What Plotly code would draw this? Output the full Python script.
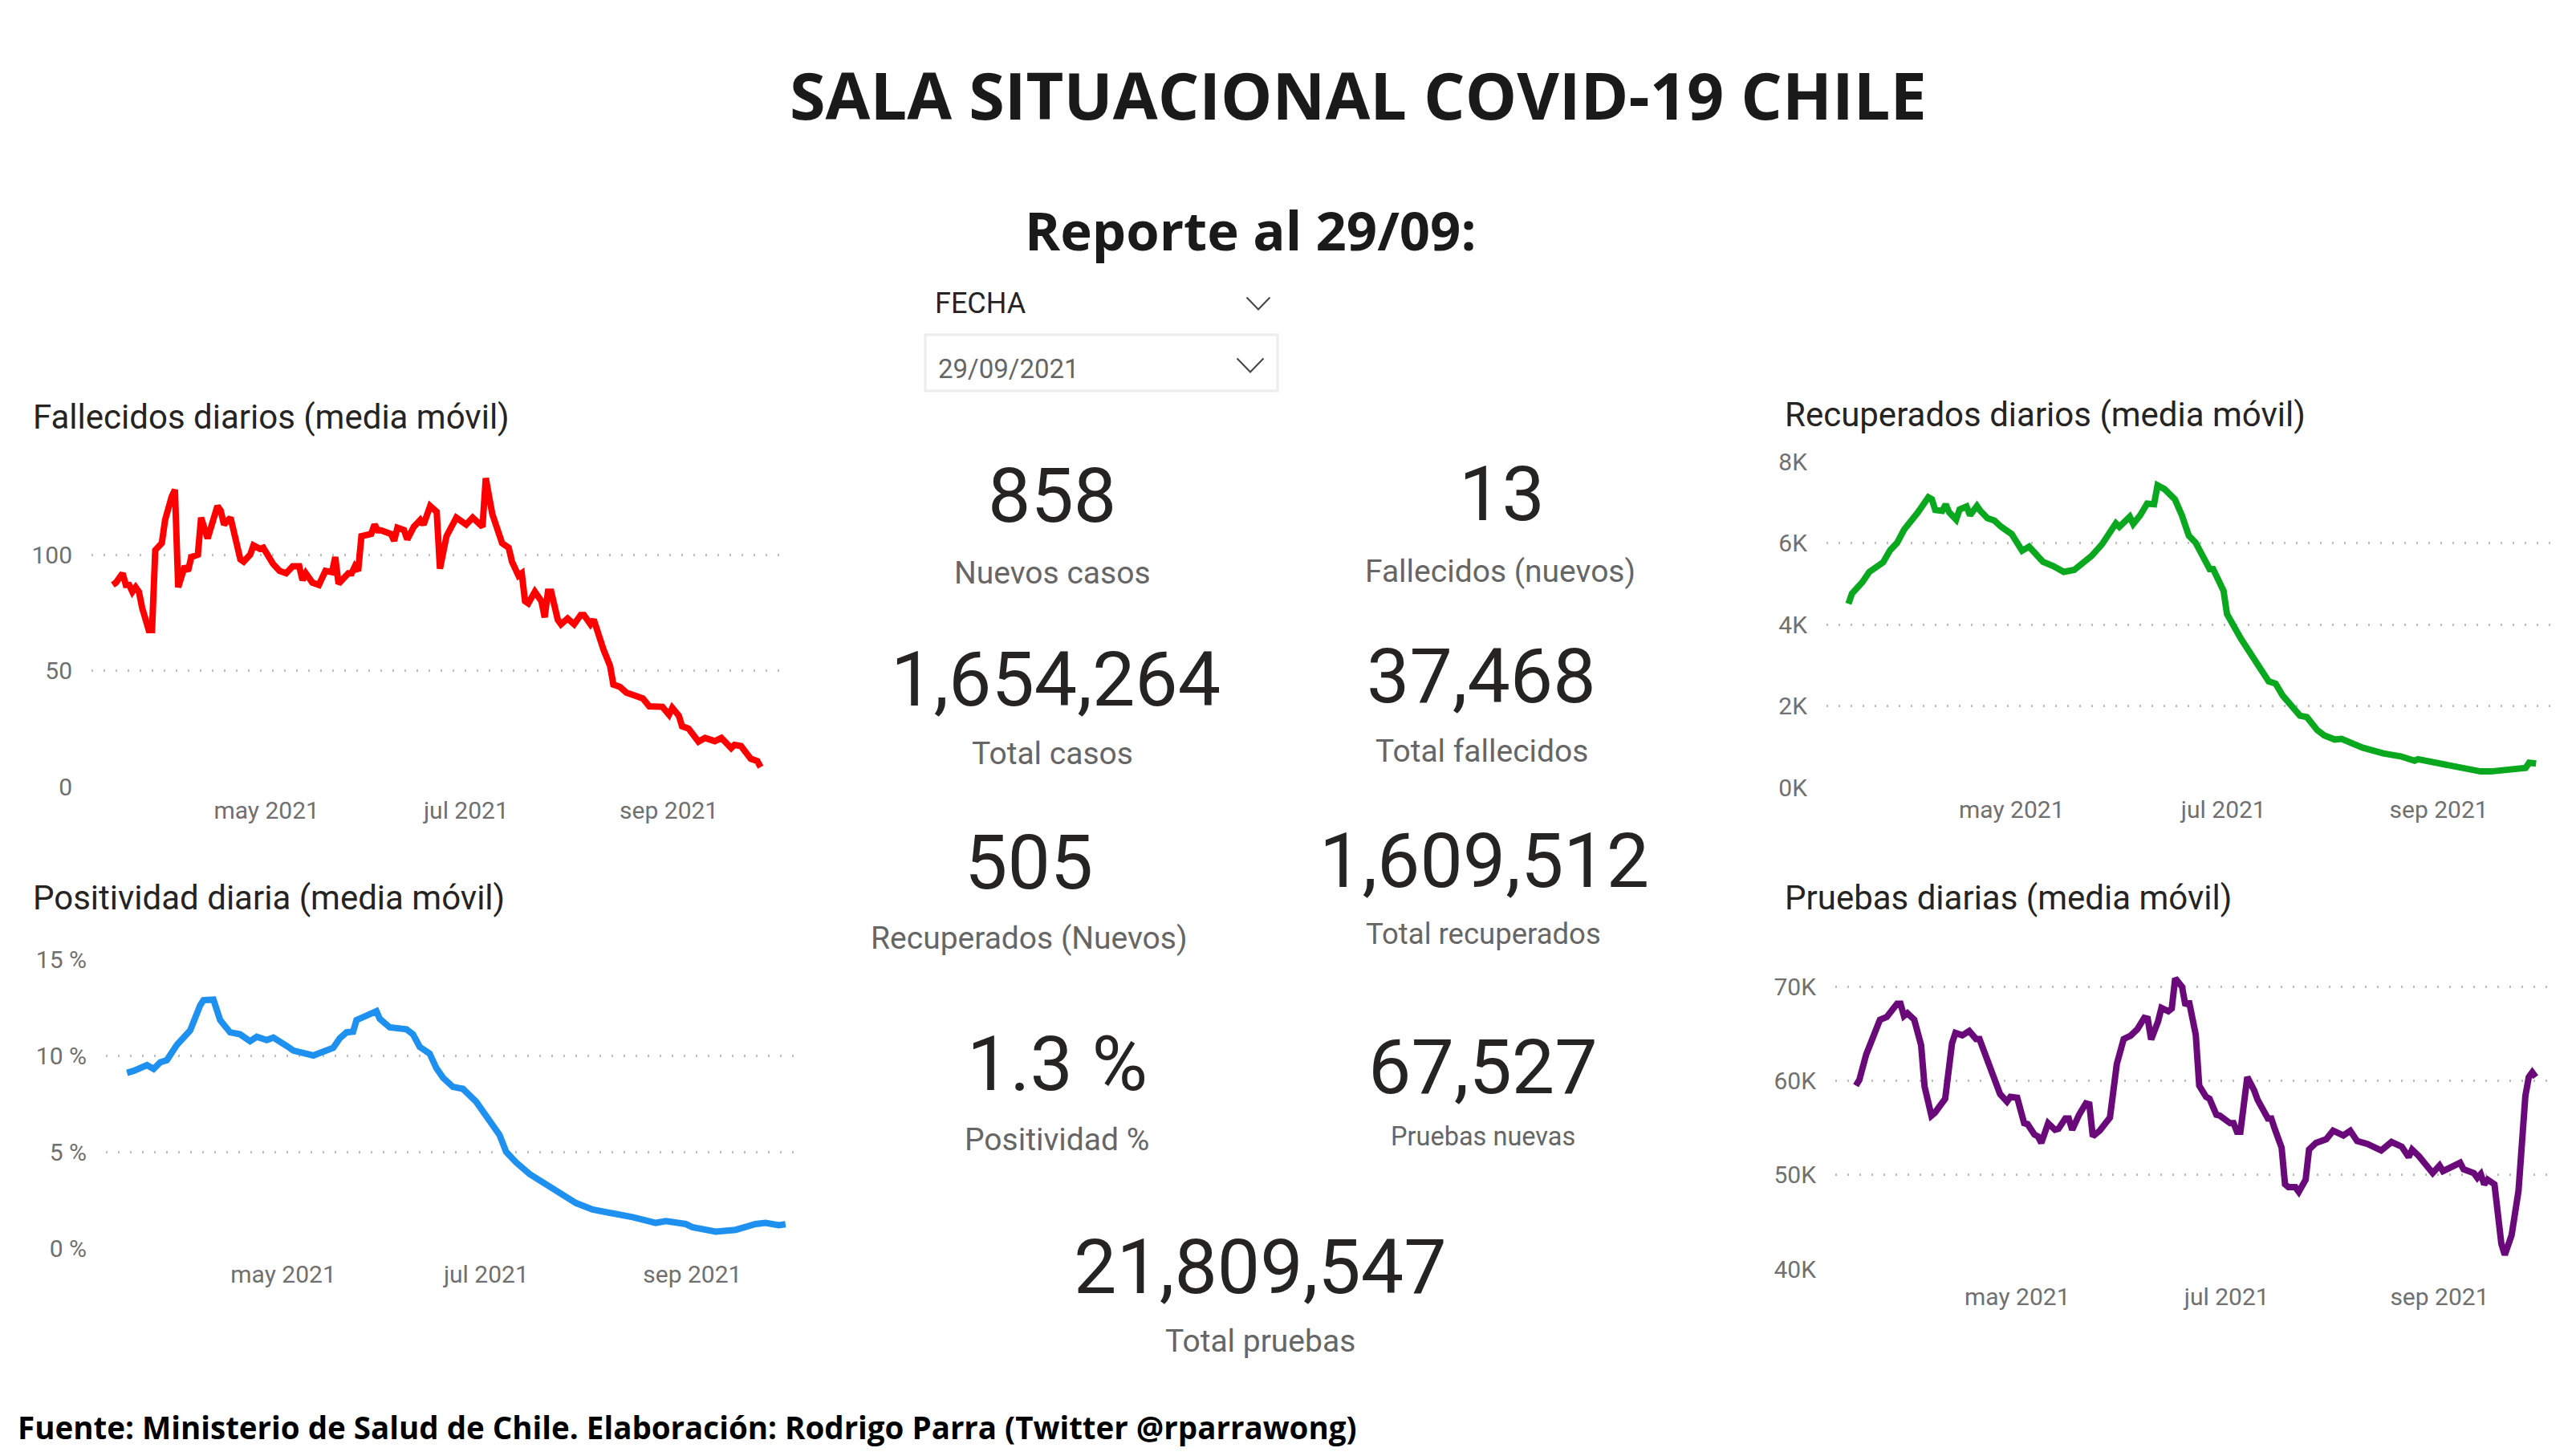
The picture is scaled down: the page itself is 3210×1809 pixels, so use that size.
import pandas as pd
import plotly.graph_objects as go

W, H = 3210, 1809
BASE = pd.Timestamp("2021-03-15")

dias_fallecidos = [0,1,3,4,5,6,7,8,9,11,12,13,15,16,18,19,20,22,23,24,26,27,29,31,32,33,34,36,38,39,40,42,43,45,46,48,49,51,53,55,57,58,59,61,63,65,67,68,69,72,73,74,75,76,79,80,81,82,84,85,86,87,89,90,92,94,95,96,97,99,100,102,105,108,110,113,114,116,118,119,121,122,124,125,126,127,129,131,132,133,134,135,136,137,139,141,143,144,146,147,148,150,152,153,155,157,160,162,164,168,170,171,173,174,176,179,181,184,186,189,190,192,195,197,198]
fallecidos = [87,88,92,87,87,84,86,84,77,67.5,67.5,102,105,115,125,128,86,95,93,99,100,116,107,117,121,119,113,116,104,98,97,100,104,102.5,103,98,96,93,92,95,95,89,92,88,87,93,92.5,99,87.5,92,92,95,93,108,109,113,110.5,110.5,109,109,106,111.6,110.6,106.6,112,115,113,117,121,118.5,94,108,116,113,116,112,133,117.5,109,105,103,97,91,92,80,79,84,80,73,84,84,79,72,70,72.5,70,74,74,70,72,67,59,52,44,43,40.5,39,38,34.6,34.4,31,34,30.6,26,25,19.4,21,19.6,21,16.6,18,17.5,12,11,8.4]

dias_positividad = [0,2,6,8,10,12,15,19,22,23,26,28,31,34,37,39,42,44,48,50,56,62,64,66,68,69,72,75,76,79,84,86,88,91,93,95,98,101,105,109,112,114,117,121,125,130,135,140,146,152,159,162,168,170,177,183,189,192,196,198]
positividad = [9.1,9.2,9.5,9.3,9.65,9.76,10.55,11.3,12.6,12.87,12.9,11.84,11.2,11.1,10.74,10.97,10.8,10.93,10.5,10.26,10,10.4,10.9,11.2,11.24,11.84,12.07,12.3,11.9,11.46,11.36,11.1,10.45,10.1,9.35,8.85,8.37,8.27,7.6,6.56,5.88,5,4.45,3.85,3.4,2.87,2.34,2,1.81,1.61,1.31,1.4,1.25,1.09,0.86,0.95,1.25,1.31,1.19,1.24]

dias_recuperados = [0,1,4,6,10,12,14,16,20,23,24,25,27,28,29,31,32,34,35,37,38,40,42,44,47,50,52,56,59,62,65,70,73,77,78,81,82,84,86,88,89,91,94,96,98,100,104,105,108,109,113,116,118,121,123,125,130,132,135,137,140,142,148,154,159,163,164,171,179,182,185,188,194,195,196,198]
recuperados = [4507,4756,5040,5290,5526,5825,6004,6324,6752,7123,7073,6810,6788,6950,6752,6574,6823,6895,6681,6909,6788,6610,6552,6396,6218,5811,5911,5540,5433,5290,5340,5683,5968,6481,6396,6645,6467,6681,6966,6952,7415,7323,7073,6681,6182,6004,5362,5362,4827,4257,3651,3259,2937,2603,2546,2260,1761,1725,1405,1276,1176,1191,977,834,763,656,692,585,442,392,392,406,442,478,606,585]

dias_pruebas = [0,1,3,7,9,12,13,14,15,17,19,20,22,23,26,28,29,31,33,35,36,40,41,42,44,45,47,49,50,52,53,54,56,58,59,61,62,63,65,67,68,69,71,74,76,78,80,81,82,84,85,86,88,89,91,92,93,95,96,97,98,99,100,102,103,105,106,109,110,111,112,114,116,117,120,121,122,124,125,126,128,129,131,132,134,137,139,142,144,146,149,151,153,156,159,161,162,164,168,170,171,176,177,180,181,182,183,184,186,188,189,191,193,195,196,197,198]
pruebas = [59.5,60.1,62.8,66.5,66.8,68.2,68.2,66.9,67.2,66.5,63.8,59.4,56.3,56.6,58.1,64,65.1,64.85,65.3,64.45,64.45,60.6,59.8,58.6,57.8,58.3,58.2,55.5,55.4,54.3,54.1,53.4,55.5,54.8,54.9,56,56,54.8,56.4,57.6,57.5,54.1,54.7,56.1,61.8,64.45,64.8,65.2,65.5,66.7,66.6,64.4,66.3,67.75,67.4,67.7,70.9,70,68,68.5,67,64.9,59.5,58.3,58.1,56.4,56.3,55.5,55.5,54.6,54.6,60.4,59,58,56,56,54.9,52.9,49,48.7,48.7,48.2,49.5,52.7,53.4,53.8,54.7,54.2,54.7,53.6,53.3,52.9,52.6,53.5,53,51.9,52.7,52,50.2,51,50.4,51.3,50.6,50.2,49.7,50.1,49,49.5,49,42.7,41.5,43.6,48.3,58.4,60.4,60.9,60.4]
pruebas = [v * 1000 for v in pruebas]

meses_vals = ["2021-05-01", "2021-07-01", "2021-09-01"]
meses_text = ["may 2021", "jul 2021", "sep 2021"]

TICK_FONT = "Roboto, sans-serif"
TEXT_FONT = "Roboto, sans-serif"
HEAD_FONT = "Open Sans, Noto Sans, sans-serif"
GRAY = "#707070"
DARK = "#252423"

def fx(p): return p / W
def fy(p): return 1 - p / H
def dates(d): return [BASE + pd.Timedelta(days=i) for i in d]

fig = go.Figure()
panels = [
 dict(n="", xd=(114,974), yd=(590,980), xr=("2021-03-08 12:00","2021-10-05 10:00"), yr=(0,135), xl=3,
      x=dias_fallecidos, y=fallecidos, c="#ff0000", tv=[0,50,100], tt=["0","50","100"], title="Fallecidos diarios (media móvil)", tx=39, ty=519),
 dict(n="2", xd=(132,993), yd=(1195,1555), xr=("2021-03-08 16:00","2021-10-02 10:00"), yr=(0,15), xl=6,
      x=dias_positividad, y=positividad, c="#1e90f0", tv=[0,5,10,15], tt=["0 %","5 %","10 %","15 %"], title="Positividad diaria (media móvil)", tx=39, ty=1118),
 dict(n="3", xd=(2276,3179), yd=(575,981), xr=("2021-03-08 16:00","2021-10-03 08:00"), yr=(0,8000), xl=1,
      x=dias_recuperados, y=recuperados, c="#0aa81e", tv=[0,2000,4000,6000,8000], tt=["0K","2K","4K","6K","8K"], title="Recuperados diarios (media móvil)", tx=2222, ty=516),
 dict(n="4", xd=(2287,3174), yd=(1206,1581), xr=("2021-03-09 00:00","2021-10-02 08:00"), yr=(40000,72000), xl=8,
      x=dias_pruebas, y=pruebas, c="#6a0a7a", tv=[40000,50000,60000,70000], tt=["40K","50K","60K","70K"], title="Pruebas diarias (media móvil)", tx=2222, ty=1118),
]
layout = {}
anns = []
def text(px, py, s, size, color=DARK, family=TEXT_FONT, anchor="center"):
    anns.append(dict(x=fx(px), y=fy(py), xref="paper", yref="paper", text=s, showarrow=False,
                     xanchor=anchor, yanchor="middle", font=dict(size=size, color=color, family=family)))

for p in panels:
    fig.add_trace(go.Scatter(x=dates(p["x"]), y=p["y"], mode="lines", xaxis="x"+p["n"], yaxis="y"+p["n"],
                             line=dict(color=p["c"], width=8), showlegend=False, hoverinfo="skip", cliponaxis=False))
    layout["xaxis"+p["n"]] = dict(domain=[fx(p["xd"][0]), fx(p["xd"][1])], range=list(p["xr"]), type="date",
        anchor="y"+p["n"], tickvals=meses_vals, ticktext=meses_text, showgrid=False, zeroline=False, showline=False, automargin=False,
        ticks="outside", ticklen=p["xl"], tickcolor="rgba(0,0,0,0)", tickfont=dict(size=30, color=GRAY, family=TICK_FONT))
    layout["yaxis"+p["n"]] = dict(domain=[fy(p["yd"][1]), fy(p["yd"][0])], range=list(p["yr"]), automargin=False,
        anchor="x"+p["n"], tickvals=p["tv"], ticktext=p["tt"], showgrid=True, gridcolor="#bdbdbd", gridwidth=2.5,
        griddash="2px,13px", zeroline=False, showline=False, ticks="outside", ticklen=17, tickcolor="rgba(0,0,0,0)",
        tickfont=dict(size=30, color=GRAY, family=TICK_FONT))
    text(p["tx"], p["ty"], p["title"], 42, anchor="left")

kpis = [
 (1311,617,"858",1311,714,"Nuevos casos",39),
 (1871,615,"13",1869,712,"Fallecidos (nuevos)",39),
 (1315,846,"1,654,264",1311,939,"Total casos",39),
 (1846,842,"37,468",1846,936,"Total fallecidos",39),
 (1282,1074,"505",1282,1169,"Recuperados (Nuevos)",39),
 (1850,1072,"1,609,512",1848,1163,"Total recuperados",36.5),
 (1317,1325,"1.3 %",1317,1420,"Positividad %",39),
 (1848,1329,"67,527",1848,1416,"Pruebas nuevas",32.5),
 (1570,1578,"21,809,547",1570,1671,"Total pruebas",39),
]
for vx, vy, v, lx, ly, l, ls in kpis:
    text(vx, vy, v, 95)
    text(lx, ly, l, ls, color="#666666")

text(1692, 117, "<b>SALA SITUACIONAL COVID-19 CHILE</b>", 81, color="#1a1a1a", family=HEAD_FONT)
text(1558, 286, "<b>Reporte al 29/09:</b>", 67, color="#1a1a1a", family=HEAD_FONT)
text(20, 1778, "<b>Fuente: Ministerio de Salud de Chile. Elaboración: Rodrigo Parra (Twitter @rparrawong)</b>", 38.5, color="#000000", family=HEAD_FONT, anchor="left")
text(1163, 378, "FECHA", 36, anchor="left")
text(1167, 459, "29/09/2021", 33, color="#666666", anchor="left")

def chevron(cx, cy, w, h):
    x0, x1, x2 = fx(cx - w/2), fx(cx), fx(cx + w/2)
    return dict(type="path", xref="paper", yref="paper", path=f"M {x0} {fy(cy-h/2)} L {x1} {fy(cy+h/2)} L {x2} {fy(cy-h/2)}",
                line=dict(color="#444444", width=2))
shapes = [
    chevron(1568, 378, 29, 15),
    chevron(1558, 455, 33, 17),
    dict(type="rect", xref="paper", yref="paper", x0=fx(1153), x1=fx(1592), y0=fy(487), y1=fy(417),
         line=dict(color="#ececec", width=3)),
]

fig.update_layout(width=W, height=H, margin=dict(l=0, r=0, t=0, b=0), paper_bgcolor="white", plot_bgcolor="white",
                  showlegend=False, annotations=anns, shapes=shapes, **layout)
fig.write_html("out.html", config={"displayModeBar": False}, post_script="document.body.style.margin='0';")
